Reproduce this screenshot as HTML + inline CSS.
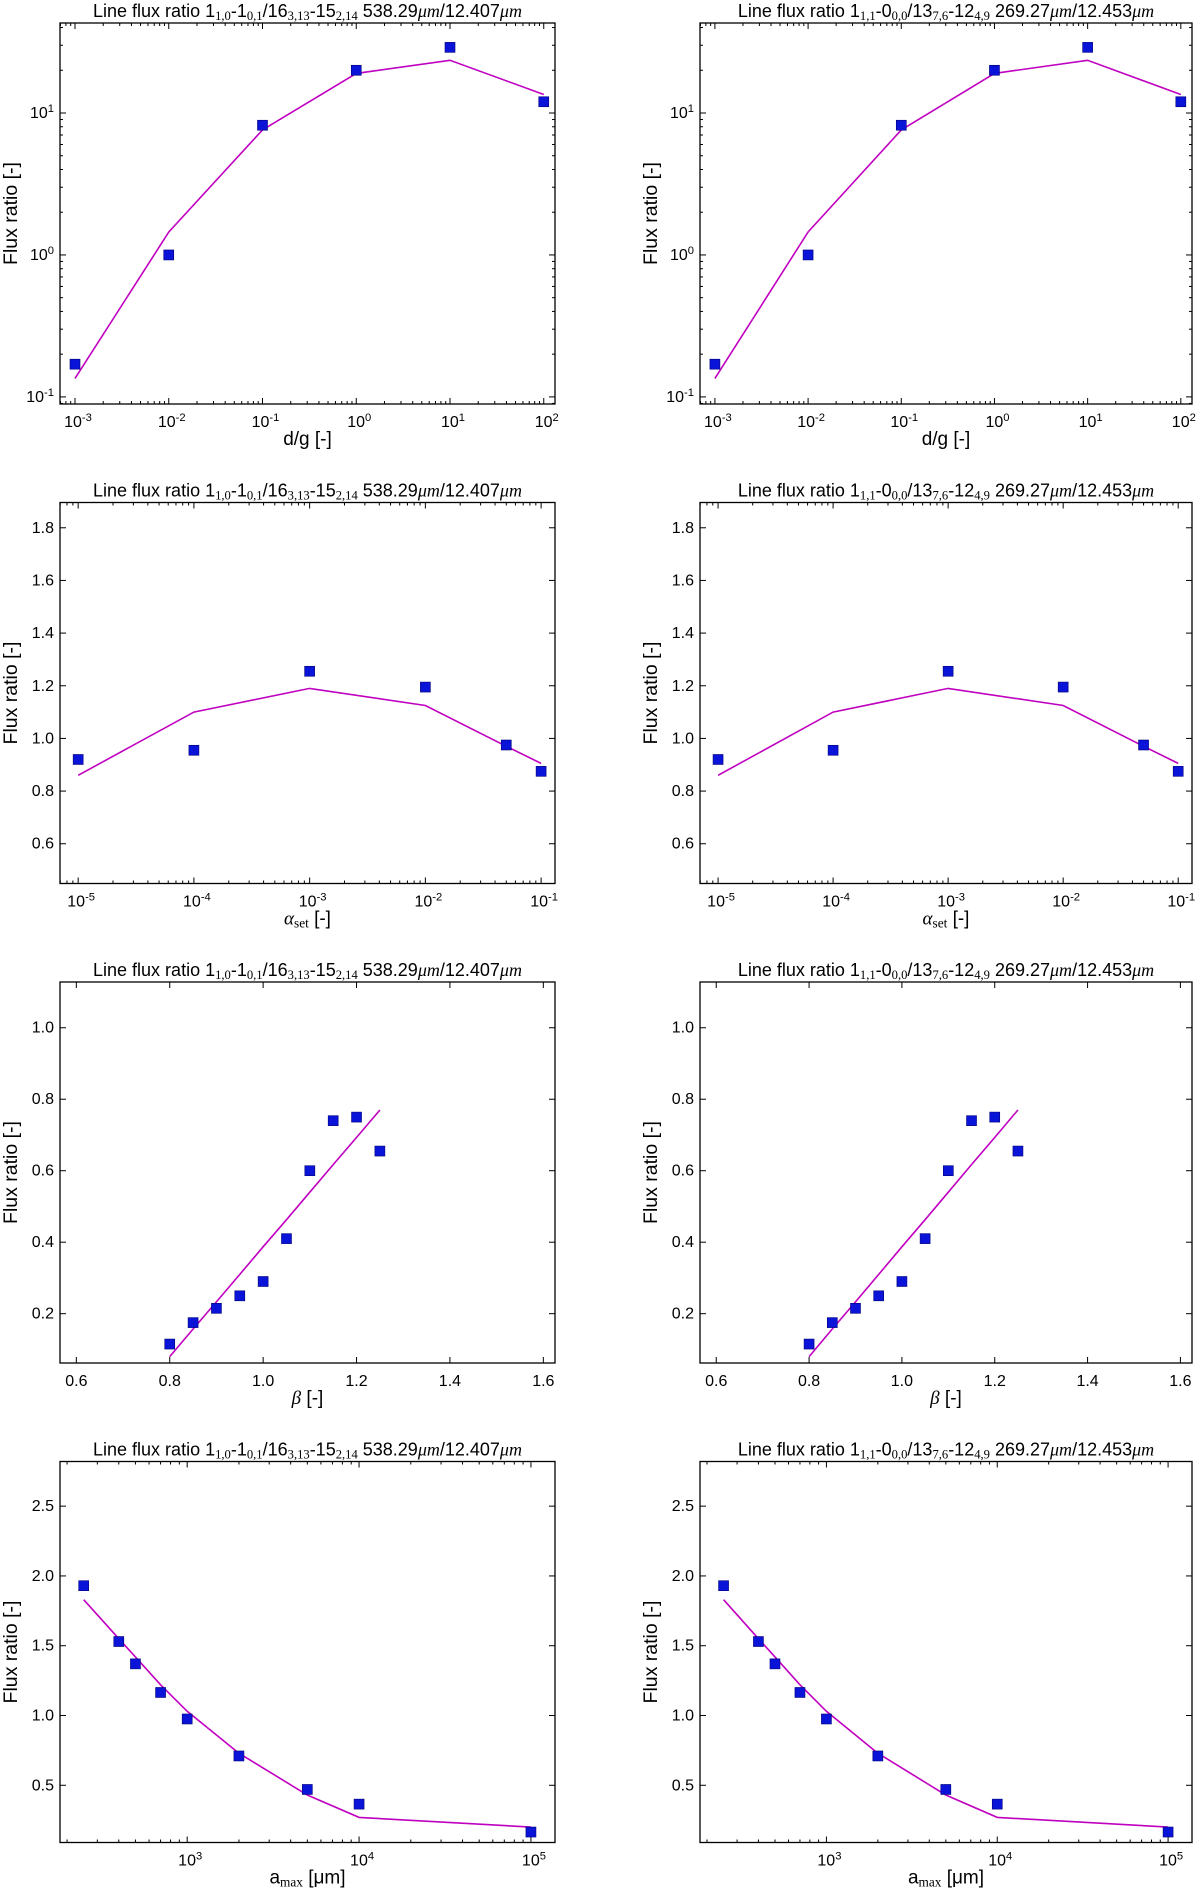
<!DOCTYPE html>
<html><head><meta charset="utf-8"><style>
html,body{margin:0;padding:0;background:#fff;}
svg{display:block;font-family:"Liberation Sans",sans-serif;}
</style></head><body>
<svg id="fig" width="1200" height="1889" viewBox="0 0 1200 1889" xmlns="http://www.w3.org/2000/svg"></svg>
<script>
// ---- data ----
const dgX = [1e-3, 1e-2, 1e-1, 1, 10, 100];
const dgPoints = [0.17, 1.0, 8.2, 20, 29, 12];
const dgModel = [0.135, 1.45, 7.6, 19, 23.5, 13.5];
const dgXTicks = [1e-3, 1e-2, 1e-1, 1, 10, 100];
const dgYTicks = [0.1, 1, 10];

const alphaX = [1e-5, 1e-4, 1e-3, 1e-2, 5e-2, 1e-1];
const alphaPoints = [0.92, 0.955, 1.255, 1.195, 0.975, 0.875];
const alphaModel = [0.86, 1.10, 1.19, 1.125, 0.97, 0.905];
const alphaXTicks = [1e-5, 1e-4, 1e-3, 1e-2, 1e-1];
const alphaYTicks = [0.6, 0.8, 1.0, 1.2, 1.4, 1.6, 1.8];

const betaX = [0.8, 0.85, 0.9, 0.95, 1.0, 1.05, 1.1, 1.15, 1.2, 1.25];
const betaPoints = [0.115, 0.175, 0.215, 0.25, 0.29, 0.41, 0.60, 0.74, 0.75, 0.655];
const betaModel = [0.08, 0.157, 0.233, 0.31, 0.387, 0.463, 0.54, 0.617, 0.693, 0.77];
const betaXTicks = [0.6, 0.8, 1.0, 1.2, 1.4, 1.6];
const betaYTicks = [0.2, 0.4, 0.6, 0.8, 1.0];

const amaxX = [250, 400, 500, 700, 1000, 2000, 5000, 10000, 100000];
const amaxPoints = [1.93, 1.53, 1.37, 1.165, 0.975, 0.71, 0.47, 0.365, 0.165];
const amaxModel = [1.83, 1.55, 1.42, 1.22, 1.03, 0.73, 0.43, 0.27, 0.20];
const amaxXTicks = [1e3, 1e4, 1e5];
const amaxYTicks = [0.5, 1.0, 1.5, 2.0, 2.5];

// ---- layout ----
const NS = "http://www.w3.org/2000/svg";
const svg = document.getElementById('fig');
const cols = [[60, 555], [700, 1192]];
const titles = [
  [["Line flux ratio 1",""],["1,0","s"],["-1",""],["0,1","s"],["/16",""],["3,13","s"],["-15",""],["2,14","s"],[" 538.29",""],["μm","i"],["/12.407",""],["μm","i"]],
  [["Line flux ratio 1",""],["1,1","s"],["-0",""],["0,0","s"],["/13",""],["7,6","s"],["-12",""],["4,9","s"],[" 269.27",""],["μm","i"],["/12.453",""],["μm","i"]]
];
const rows = [
  {key:'dg', xlog:true, ylog:true, xd:[-3.16,2.12], yd:[-1.05,1.634], X:dgX, P:dgPoints, M:dgModel, xt:dgXTicks, yt:dgYTicks, xl:[["d/g [-]",""]]},
  {key:'alpha', xlog:true, ylog:false, xd:[-5.157,-0.88], yd:[0.449,1.896], X:alphaX, P:alphaPoints, M:alphaModel, xt:alphaXTicks, yt:alphaYTicks, xl:[["α","i"],["set","s"],[" [-]",""]]},
  {key:'beta', xlog:false, ylog:false, xd:[0.565,1.625], yd:[0.062,1.128], X:betaX, P:betaPoints, M:betaModel, xt:betaXTicks, yt:betaYTicks, xl:[["β","i"],[" [-]",""]]},
  {key:'amax', xlog:true, ylog:false, xd:[2.26,5.14], yd:[0.09,2.82], X:amaxX, P:amaxPoints, M:amaxModel, xt:amaxXTicks, yt:amaxYTicks, xl:[["a",""],["max","s"],[" [μm]",""]]}
];

function el(tag, attrs, parent){ const e=document.createElementNS(NS,tag); for(const k in attrs) e.setAttribute(k,attrs[k]); (parent||svg).appendChild(e); return e; }
function richText(parts, attrs, parent){
  const t = el('text', attrs, parent);
  parts.forEach(p=>{
    const s = document.createElementNS(NS,'tspan');
    s.textContent = p[0];
    if(p[1]==='s'){ s.setAttribute('baseline-shift','-25%'); s.setAttribute('font-size','0.7em'); s.setAttribute('font-family','"Liberation Serif",serif'); }
    if(p[1]==='i'){ s.setAttribute('font-style','italic'); s.setAttribute('font-family','"Liberation Serif",serif'); }
    t.appendChild(s);
  });
  return t;
}
function expLabel(v, attrs, parent){
  const t = el('text', attrs, parent);
  const e = Math.round(Math.log10(v));
  const a = document.createElementNS(NS,'tspan'); a.textContent='10'; t.appendChild(a);
  const b = document.createElementNS(NS,'tspan'); b.textContent=String(e); b.setAttribute('baseline-shift','super'); b.setAttribute('font-size','0.7em'); t.appendChild(b);
  return t;
}

rows.forEach((r, ri)=>{
  const top = 23 + ri*479.5, bot = 404 + ri*479.5;
  cols.forEach((c, ci)=>{
    const [L, R] = c;
    const g = el('g', {});
    
    
    const fx = v => { const u = r.xlog ? Math.log10(v) : v; return L + (u - r.xd[0])/(r.xd[1]-r.xd[0])*(R-L); };
    const fy = v => { const u = r.ylog ? Math.log10(v) : v; return bot - (u - r.yd[0])/(r.yd[1]-r.yd[0])*(bot-top); };
    const tk = el('g', {stroke:'#000','stroke-width':1}, g);
     
    function xtick(x, len){ el('line',{x1:x,x2:x,y1:bot,y2:bot-len},tk); el('line',{x1:x,x2:x,y1:top,y2:top+len},tk); }
    function ytick(y, len){ el('line',{x1:L,x2:L+len,y1:y,y2:y},tk); el('line',{x1:R,x2:R-len,y1:y,y2:y},tk); }
    if(r.xlog){
      for(let d=Math.floor(r.xd[0]); d<=Math.ceil(r.xd[1]); d++) for(let m=2;m<10;m++){ const u=d+Math.log10(m); if(u>r.xd[0]&&u<r.xd[1]) xtick(fx(Math.pow(10,u)),3); }
    }
    if(r.ylog){
      for(let d=Math.floor(r.yd[0]); d<=Math.ceil(r.yd[1]); d++) for(let m=2;m<10;m++){ const u=d+Math.log10(m); if(u>r.yd[0]&&u<r.yd[1]) ytick(fy(Math.pow(10,u)),3); }
    }
    r.xt.forEach(v=>{
      const x = fx(v); xtick(x,6);
      const a = {x:r.xlog?x+3:x, y:bot+23, 'font-size':16, 'text-anchor':'middle', fill:'#000'};
      const t = r.xlog ? expLabel(v, a, g) : el('text', a, g);
      if(!r.xlog) t.textContent = v.toFixed(1);
       
    });
    r.yt.forEach(v=>{
      const y = fy(v); ytick(y,6);
      const a = {x:L-6, y:y+5, 'font-size':16, 'text-anchor':'end', fill:'#000'};
      const t = r.ylog ? expLabel(v, a, g) : el('text', a, g);
      if(!r.ylog) t.textContent = v.toFixed(1);
       
    });
    const pts = r.X.map((x,i)=>fx(x).toFixed(1)+','+fy(r.M[i]).toFixed(1)).join(' ');
    const pl = el('polyline',{points:pts, fill:'none', stroke:'#c000c0','stroke-width':1.6}, g);
     
    r.X.forEach((x,i)=>{
      const s = el('rect',{x:fx(x)-5, y:fy(r.P[i])-5, width:10, height:10, fill:'#0a14d8', stroke:'#00007a','stroke-width':0.6}, g);
       
    });
    const fr = el('rect',{x:L, y:top, width:R-L, height:bot-top, fill:'none', stroke:'#000','stroke-width':1.3}, g);
     
    const tt = richText(titles[ci], {x:(L+R)/2, y:top-6, 'font-size':18, 'text-anchor':'middle', fill:'#000'}, g);
     
    const xl = richText(r.xl, {x:(L+R)/2, y:bot+41, 'font-size':19, 'text-anchor':'middle', fill:'#000'}, g);
     
    const yx = L-43, yy=(top+bot)/2;
    const yl = el('text',{x:yx, y:yy, 'font-size':19.5, 'text-anchor':'middle', fill:'#000', transform:'rotate(-90 '+yx+' '+yy+')'}, g);
    yl.textContent = 'Flux ratio [-]';
     
  });
});
</script>
</body></html>
